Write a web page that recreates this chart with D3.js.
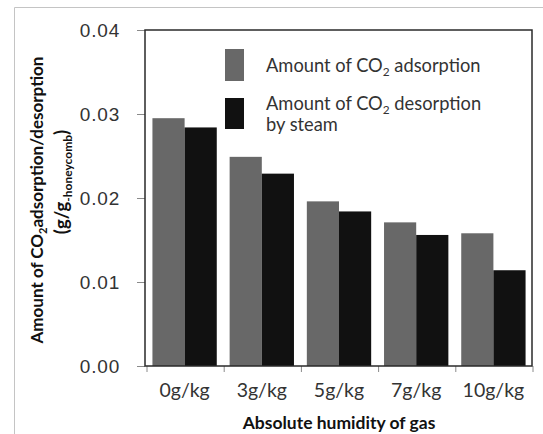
<!DOCTYPE html>
<html><head><meta charset="utf-8">
<script src="https://cdn.jsdelivr.net/npm/d3@7"></script>
<style>
body{margin:0;background:#fff;}
svg{display:block;}
</style></head>
<body><svg id="chart" width="543" height="434"></svg>
<script>
const categories = ["0g/kg","3g/kg","5g/kg","7g/kg","10g/kg"];
const adsorption = [0.0295, 0.0249, 0.0196, 0.0171, 0.0158];
const desorption = [0.0284, 0.0229, 0.0184, 0.0156, 0.0114];
const seriesNames = ["Amount of CO2 adsorption","Amount of CO2 desorption by steam"];
const yTicks = [0, 0.01, 0.02, 0.03, 0.04];
const colors = ["#686868","#111111"];

const svg = d3.select("#chart");
const W = 543, H = 434;
const m = {left:146, right:532, top:30, bottom:366};
const font = "Lato, 'Open Sans', sans-serif";

// outer image frame
svg.append("path").attr("d", `M14.5,${H} L14.5,7.5 L${W},7.5`)
  .attr("fill","none").attr("stroke","#c4c4c4").attr("stroke-width",1);

const x0 = d3.scaleBand().domain(categories).range([m.left, m.right]).padding(0);
const x1 = d3.scaleBand().domain([0,1]).range([0, x0.bandwidth()]).paddingInner(0).paddingOuter(0.2);
const y = d3.scaleLinear().domain([0,0.04]).range([m.bottom, m.top]);

const data = categories.map((c,i)=>({c, v:[adsorption[i], desorption[i]]}));

const g = svg.append("g");
g.selectAll("g.cat").data(data).join("g").attr("class","cat")
  .attr("transform", d=>`translate(${x0(d.c)},0)`)
  .selectAll("rect").data(d=>d.v.map((v,k)=>({v,k}))).join("rect")
  .attr("x", d=>x1(d.k)).attr("width", x1.bandwidth())
  .attr("y", d=>y(d.v)).attr("height", d=>y(0)-y(d.v))
  .attr("fill", d=>colors[d.k]);

// y axis
const yAxis = d3.axisLeft(y).tickValues(yTicks).tickFormat(d3.format(".2f")).tickSize(8).tickPadding(17);
const ya = svg.append("g").attr("transform",`translate(${m.left-1},0)`).call(yAxis);
ya.select(".domain").remove();
ya.selectAll(".tick line").attr("stroke","#8a8a8a");
ya.selectAll(".tick text").attr("font-family","'Liberation Sans', Arial, sans-serif")
  .attr("font-size",19).attr("letter-spacing","0.8px").attr("fill","#333");

// x axis: ticks at category boundaries
const xa = d3.axisBottom(x0).tickSize(0).tickPadding(17);
const xg = svg.append("g").attr("transform",`translate(0,${m.bottom})`).call(xa);
xg.select(".domain").remove();
xg.selectAll(".tick text").attr("font-family",font).attr("font-size",19.5).attr("fill","#333");
const bounds = categories.map(c=>x0(c)).concat([m.right]);
svg.append("g").selectAll("line").data(bounds).join("line")
  .attr("x1",d=>d+1).attr("x2",d=>d+1).attr("y1",m.bottom).attr("y2",m.bottom+6)
  .attr("stroke","#8a8a8a");

// plot frame
svg.append("rect").attr("x",m.left-1).attr("y",m.top).attr("width",m.right-m.left+1).attr("height",m.bottom-m.top)
  .attr("fill","none").attr("stroke","#2a2a2a").attr("stroke-width",1.5);

// legend
const lg = svg.append("g");
lg.append("rect").attr("x",225).attr("y",49).attr("width",19).attr("height",32).attr("fill",colors[0]);
lg.append("rect").attr("x",225).attr("y",98).attr("width",19).attr("height",31).attr("fill",colors[1]);
function co2Text(sel, before, after){
  sel.append("tspan").text(before);
  sel.append("tspan").attr("font-size","0.65em").attr("dy",4).text("2");
  sel.append("tspan").attr("dy",-4).text(after);
}
const lfs = 18.3;
const t1 = lg.append("text").attr("x",266).attr("y",72).attr("font-family",font).attr("font-size",lfs).attr("fill","#333");
co2Text(t1,"Amount of CO"," adsorption");
const t2 = lg.append("text").attr("x",266).attr("y",110).attr("font-family",font).attr("font-size",lfs).attr("fill","#333");
co2Text(t2,"Amount of CO"," desorption");
lg.append("text").attr("x",266).attr("y",131).attr("font-family",font).attr("font-size",lfs).attr("fill","#333").text("by steam");

// x title
svg.append("text").attr("x",339).attr("y",429).attr("text-anchor","middle")
  .attr("font-family",font).attr("font-weight","bold").attr("font-size",17.5).attr("fill","#111")
  .text("Absolute humidity of gas");

// y title
const yt1 = svg.append("text").attr("transform","translate(43,200) rotate(-90)").attr("text-anchor","middle")
  .attr("font-family",font).attr("font-weight","bold").attr("font-size",17).attr("fill","#111");
co2Text(yt1,"Amount of CO","adsorption/desorption");
const yt2 = svg.append("text").attr("transform","translate(68,182) rotate(-90)").attr("text-anchor","middle")
  .attr("font-family",font).attr("font-weight","bold").attr("font-size",18.5).attr("fill","#111");
yt2.append("tspan").text("(g/g");
yt2.append("tspan").attr("font-size","0.65em").attr("dy",4).text("-honeycomb");
yt2.append("tspan").attr("dy",-4).text(")");
</script></body></html>
